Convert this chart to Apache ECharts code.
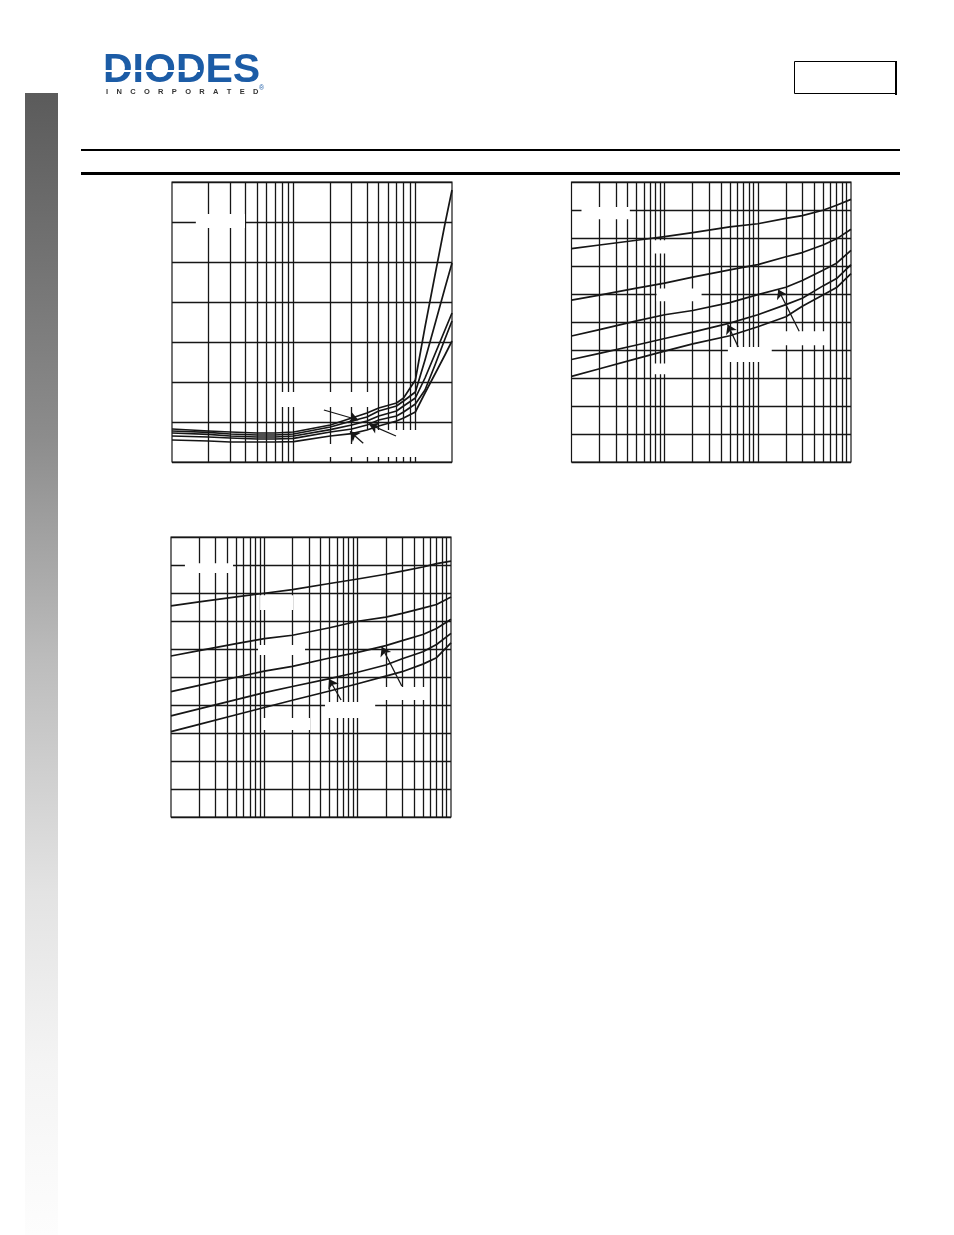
<!DOCTYPE html>
<html>
<head>
<meta charset="utf-8">
<script src="https://cdn.jsdelivr.net/npm/echarts@6/dist/echarts.min.js"></script>
<style>
html,body{margin:0;padding:0;background:#fff;}
#page{width:954px;height:1235px;}
</style>
</head>
<body>
<div id="page"></div>
<script>
// ---------- Chart 1 (log x 1..200, linear y 0..700) ----------
const c1X = [1, 2, 3, 5, 7, 10, 20, 30, 40, 50, 70, 80, 100, 120, 145, 175, 200];
const c1A = [82.5, 77.5, 75, 72.5, 72.5, 75, 92.5, 110, 122.5, 135, 147.5, 160, 205, 337.5, 467.5, 595, 680];
const c1B = [77.5, 74, 70, 67.5, 67.5, 70, 87.5, 102.5, 112.5, 127.5, 140, 152.5, 175, 255, 345, 435, 497.5];
const c1C = [72.5, 69, 65, 62.5, 62.5, 65, 81, 92.5, 102.5, 115, 127.5, 140, 160, 210, 270, 330, 372.5];
const c1D = [65, 62.5, 60, 57.5, 57.5, 59, 75, 82.5, 92.5, 105, 115, 125, 145, 180, 242.5, 307.5, 352.5];
const c1E = [55, 52.5, 50, 50, 50, 51, 65, 71, 80, 90, 102.5, 110, 125, 172.5, 220, 267.5, 302.5];
const c1GridX = [2, 3, 4, 5, 6, 7, 8, 9, 10, 20, 30, 40, 50, 60, 70, 80, 90, 100];
const c1Arrows = [[[17.7, 130], [34, 105]], [[69.3, 65], [41.8, 94]], [[37.3, 47], [29, 76]]];
const c1Masks = [[[1.57, 585], [3.98, 620]], [[7.72, 137.5], [44, 175]], [[18.4, 12.5], [109, 45]], [[39.3, 45], [109, 80]]];

// ---------- Chart 2 (log x 1..1000, linear y 0..1000) ----------
const c2X = [1, 2, 5, 10, 20, 50, 100, 200, 300, 500, 700, 1000];
const c2A = [762, 775, 792, 805, 819, 840, 851, 870, 880, 899, 917, 938];
const c2B = [578, 596, 621, 639, 660, 686, 705, 733, 748, 775, 797, 831];
const c2C = [450, 473, 504, 526, 541, 569, 598, 624, 648, 685, 710, 756];
const c2D = [366, 388, 418, 441, 464, 496, 526, 562, 585, 629, 655, 705];
const c2E = [306, 333, 369, 396, 422, 451, 483, 519, 556, 596, 623, 673];
const c2Arrows = [[[61.6, 411], [47.4, 491]], [[278, 467], [165.6, 616]]];
const c2Masks = [[[1.28, 867], [4.23, 911]], [[7.47, 745], [17.8, 792]], [[8.18, 574], [24.9, 620]], [[7.47, 313], [17.8, 352]], [[47.7, 357], [141, 411]], [[145, 417], [526, 467]]];

// ---------- Chart 3 (log x 1..1000, linear y 0..1000) ----------
const c3X = [1, 2, 5, 10, 20, 50, 100, 200, 300, 500, 700, 1000];
const c3A = [754, 768, 786, 799, 812, 834, 850, 867, 878, 893, 905, 914];
const c3B = [575, 594, 619, 637, 649, 676, 699, 714, 727, 746, 759, 786];
const c3C = [448, 470, 499, 521, 538, 568, 588, 612, 630, 652, 673, 706];
const c3D = [361, 386, 419, 444, 466, 494, 517, 543, 565, 590, 616, 656];
const c3E = [305, 331, 365, 391, 417, 450, 476, 503, 519, 546, 569, 622];
const c3Arrows = [[[66.4, 418], [49.4, 493]], [[297, 468], [181, 608]]];
const c3Masks = [[[1.41, 871], [4.62, 906]], [[9.0, 739], [20.3, 792]], [[8.56, 579], [27.3, 614]], [[9.68, 311], [30.9, 354]], [[44.7, 354], [154, 411]], [[154, 418], [528, 464]]];

const c23GridX = [2, 3, 4, 5, 6, 7, 8, 9, 10, 20, 30, 40, 50, 60, 70, 80, 90, 100, 200, 300, 400, 500, 600, 700, 800, 900];

const INK = '#161616';

function pairs(xs, ys) { return xs.map((x, i) => [x, ys[i]]); }

function curve(idx, xs, ys) {
  return {
    type: 'line', xAxisIndex: idx, yAxisIndex: idx, z: 3,
    data: pairs(xs, ys), showSymbol: false, symbol: 'none',
    smooth: false,
    lineStyle: { color: INK, width: 1.7, join: 'round' }, silent: true
  };
}
function gridLines(idx, xs) {
  return {
    type: 'line', xAxisIndex: idx, yAxisIndex: idx, z: 1, data: [], silent: true,
    markLine: {
      z: 1, silent: true, symbol: ['none', 'none'], label: { show: false }, animation: false,
      lineStyle: { color: INK, width: 1.3, type: 'solid' },
      data: xs.map(v => ({ xAxis: v }))
    }
  };
}
function masks(idx, boxes) {
  return {
    type: 'line', xAxisIndex: idx, yAxisIndex: idx, z: 2, data: [], silent: true,
    markArea: {
      z: 2, silent: true, animation: false, label: { show: false },
      itemStyle: { color: '#ffffff', opacity: 1, borderWidth: 0 },
      data: boxes.map(b => [{ coord: b[0] }, { coord: b[1] }])
    }
  };
}
function arrows(idx, list) {
  return {
    type: 'line', xAxisIndex: idx, yAxisIndex: idx, z: 6, data: [], silent: true,
    markLine: {
      z: 6, silent: true, symbol: ['none', 'arrow'], symbolSize: 9, label: { show: false }, animation: false,
      lineStyle: { color: INK, width: 1.3, type: 'solid' },
      data: list.map(a => [{ coord: a[0] }, { coord: a[1] }])
    }
  };
}
function xAx(idx, max) {
  return {
    type: 'log', logBase: 10, min: 1, max: max, gridIndex: idx,
    axisLine: { show: false }, axisTick: { show: false }, axisLabel: { show: false },
    splitLine: { show: false }, minorSplitLine: { show: false }
  };
}
function yAx(idx, max) {
  return {
    type: 'value', min: 0, max: max, interval: 100, gridIndex: idx,
    axisLine: { show: false }, axisTick: { show: false }, axisLabel: { show: false },
    splitLine: { show: true, lineStyle: { color: INK, width: 1.3 } }
  };
}

const gridBox = { show: true, borderColor: INK, borderWidth: 1.2, backgroundColor: 'transparent' };

const option = {
  animation: false,
  backgroundColor: '#ffffff',
  grid: [
    Object.assign({ left: 172, top: 182, width: 280, height: 280 }, gridBox),
    Object.assign({ left: 571.5, top: 182, width: 279.5, height: 280 }, gridBox),
    Object.assign({ left: 171, top: 537, width: 280, height: 280 }, gridBox)
  ],
  xAxis: [xAx(0, 200), xAx(1, 1000), xAx(2, 1000)],
  yAxis: [yAx(0, 700), yAx(1, 1000), yAx(2, 1000)],
  series: [
    gridLines(0, c1GridX), masks(0, c1Masks), arrows(0, c1Arrows),
    curve(0, c1X, c1A), curve(0, c1X, c1B), curve(0, c1X, c1C), curve(0, c1X, c1D), curve(0, c1X, c1E),
    gridLines(1, c23GridX), masks(1, c2Masks), arrows(1, c2Arrows),
    curve(1, c2X, c2A), curve(1, c2X, c2B), curve(1, c2X, c2C), curve(1, c2X, c2D), curve(1, c2X, c2E),
    gridLines(2, c23GridX), masks(2, c3Masks), arrows(2, c3Arrows),
    curve(2, c3X, c3A), curve(2, c3X, c3B), curve(2, c3X, c3C), curve(2, c3X, c3D), curve(2, c3X, c3E)
  ],
  graphic: [
    // left grey gradient band
    { type: 'rect', z: 0, silent: true, shape: { x: 25, y: 93, width: 33, height: 1142 },
      style: { fill: { type: 'linear', x: 0, y: 0, x2: 0, y2: 1, colorStops: [
        { offset: 0, color: '#5b5b5b' }, { offset: 0.3, color: '#8c8c8c' },
        { offset: 0.5, color: '#bdbdbd' }, { offset: 0.7, color: '#e3e3e3' },
        { offset: 0.85, color: '#f4f4f4' }, { offset: 1, color: '#fdfdfd' } ] } } },
    // header rules
    { type: 'rect', silent: true, shape: { x: 81, y: 149, width: 819, height: 2 }, style: { fill: '#000' } },
    { type: 'rect', silent: true, shape: { x: 81, y: 172, width: 819, height: 3 }, style: { fill: '#000' } },
    // top-right box
    { type: 'rect', silent: true, shape: { x: 794.5, y: 61.5, width: 101, height: 32 },
      style: { fill: 'none', stroke: '#000', lineWidth: 1 } },
    { type: 'rect', silent: true, shape: { x: 895, y: 61, width: 2, height: 34 }, style: { fill: '#000' } },
    // logo
    { type: 'text', silent: true, x: 103, y: 71,
      style: { text: 'DIODES', font: 'bold 41px "Liberation Sans", Arial, sans-serif', fill: '#1c5ca6', verticalAlign: 'middle', align: 'left' } },
    { type: 'rect', silent: true, z: 10, shape: { x: 104, y: 70, width: 96, height: 2 }, style: { fill: '#ffffff' } },
    { type: 'text', silent: true, x: 106, y: 92,
      style: { text: 'I    N    C    O    R    P    O    R    A    T    E    D', font: 'bold 7.5px "Liberation Sans", Arial, sans-serif', fill: '#333333', verticalAlign: 'middle', align: 'left' } },
    { type: 'text', silent: true, x: 259, y: 88,
      style: { text: '®', font: '7px "Liberation Sans", Arial, sans-serif', fill: '#1c5ca6', verticalAlign: 'middle', align: 'left' } }
  ]
};

const chart = echarts.init(document.getElementById('page'), null, { renderer: 'canvas', width: 954, height: 1235 });
chart.setOption(option);
</script>
</body>
</html>
